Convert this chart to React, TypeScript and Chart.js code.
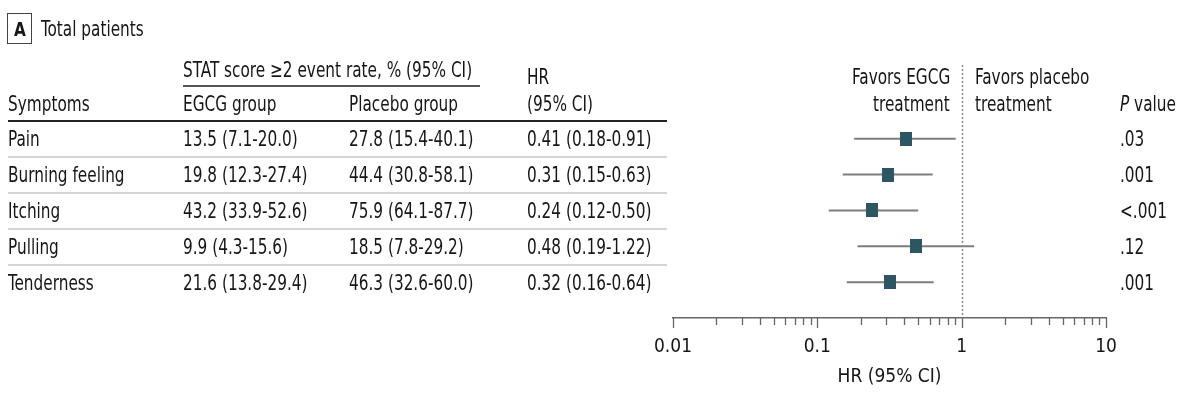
import React, { useEffect, useRef } from "react";
import { Chart, registerables } from "chart.js";

Chart.register(...registerables);

// ---- data ----
const symptoms = ["Pain", "Burning feeling", "Itching", "Pulling", "Tenderness"];
const egcgRates = ["13.5 (7.1-20.0)", "19.8 (12.3-27.4)", "43.2 (33.9-52.6)", "9.9 (4.3-15.6)", "21.6 (13.8-29.4)"];
const placeboRates = ["27.8 (15.4-40.1)", "44.4 (30.8-58.1)", "75.9 (64.1-87.7)", "18.5 (7.8-29.2)", "46.3 (32.6-60.0)"];
const hrValues = [0.41, 0.31, 0.24, 0.48, 0.32];
const hrLower = [0.18, 0.15, 0.12, 0.19, 0.16];
const hrUpper = [0.91, 0.63, 0.5, 1.22, 0.64];
const pValues = [".03", ".001", "<.001", ".12", ".001"];
const axisTickLabels = [0.01, 0.1, 1, 10];
const axisTitle = "HR (95% CI)";

const FONT = "'Liberation Sans Narrow', 'DejaVu Sans Condensed', 'Arial Narrow', sans-serif";
const TEXT = "#161616";
const FS = 21;
const SQUEEZE = 0.81;

// layout constants
const ROW0 = 139;
const ROWH = 36;
const TABLE_LEFT = 8;
const TABLE_RIGHT = 667;
const COL_EGCG = 183;
const COL_PLAC = 349;
const COL_HR = 527;
const COL_P = 1120;

type TProps = { x: number; y: number; align?: "left" | "right"; children: React.ReactNode; style?: React.CSSProperties };
const T = ({ x, y, align = "left", children, style }: TProps) => (
  <div
    style={{
      position: "absolute",
      left: align === "left" ? x : undefined,
      right: align === "right" ? 1200 - x : undefined,
      top: y,
      transform: `translateY(-50%) scaleX(${SQUEEZE})`,
      transformOrigin: align === "left" ? "left center" : "right center",
      whiteSpace: "nowrap",
      lineHeight: 1,
      fontFamily: FONT,
      fontSize: FS,
      color: TEXT,
      ...style,
    }}
  >
    {children}
  </div>
);

const HLine = ({ x1, x2, y, w, color }: { x1: number; x2: number; y: number; w: number; color: string }) => (
  <div style={{ position: "absolute", left: x1, top: y - w / 2, width: x2 - x1, height: w, background: color }} />
);

function makeMarker(): HTMLCanvasElement {
  const c = document.createElement("canvas");
  c.width = 12;
  c.height = 14;
  const g = c.getContext("2d")!;
  g.fillStyle = "#2c5664";
  g.fillRect(0, 0, 12, 14);
  return c;
}

export default function App() {
  const ref = useRef<HTMLCanvasElement | null>(null);

  useEffect(() => {
    if (!ref.current) return;
    const marker = makeMarker();

    const ciSets = symptoms.map((s, i) => ({
      label: s + " CI",
      data: [
        { x: hrLower[i], y: i },
        { x: hrUpper[i], y: i },
      ],
      showLine: true,
      borderColor: "#7d7d7d",
      borderWidth: 2,
      pointRadius: 0,
      order: 2,
    }));

    const pointSet = {
      label: "HR",
      data: hrValues.map((v, i) => ({ x: v, y: i })),
      pointStyle: marker as any,
      pointRadius: 7,
      showLine: false,
      order: 1,
    };

    const overlay = {
      id: "forestExtras",
      afterDraw(chart: any) {
        const { ctx, chartArea } = chart;
        const xs = chart.scales.x;
        ctx.save();
        // reference line at HR = 1
        const x1 = Math.round(xs.getPixelForValue(1)) + 0.5;
        ctx.strokeStyle = "#8a8a8a";
        ctx.lineWidth = 1.5;
        ctx.setLineDash([2, 2]);
        ctx.beginPath();
        ctx.moveTo(x1, chartArea.top - 2);
        ctx.lineTo(x1, chartArea.bottom);
        ctx.stroke();
        ctx.setLineDash([]);
        // tick marks (major + minor)
        ctx.strokeStyle = "#666";
        ctx.lineWidth = 1.3;
        const yb = chartArea.bottom;
        for (let e = -2; e <= 1; e++) {
          for (let m = 1; m <= 9; m++) {
            const v = m * Math.pow(10, e);
            if (v > 10.0001) break;
            const px = Math.round(xs.getPixelForValue(v)) + 0.5;
            const len = m === 1 ? 10 : 7;
            ctx.beginPath();
            ctx.moveTo(px, yb);
            ctx.lineTo(px, yb + len);
            ctx.stroke();
          }
        }
        ctx.restore();
      },
    };

    const chart = new Chart(ref.current, {
      type: "scatter",
      data: { datasets: [...ciSets, pointSet] as any },
      options: {
        animation: false,
        responsive: false,
        layout: { padding: { left: 673, right: 94, top: 67, bottom: 0 } },
        plugins: { legend: { display: false }, tooltip: { enabled: false } },
        scales: {
          x: {
            type: "logarithmic",
            min: 0.01,
            max: 10,
            grid: { display: false, drawTicks: false },
            border: { display: true, color: "#666", width: 1.5 },
            afterFit: (scale: any) => {
              scale.height = 397 - 318;
            },
            afterBuildTicks: (scale: any) => {
              scale.ticks = axisTickLabels.map((v) => ({ value: v }));
            },
            ticks: {
              autoSkip: false,
              maxRotation: 0,
              padding: 18,
              color: TEXT,
              font: { family: FONT, size: 19 },
              callback: (v: any) => String(v),
            },
            title: {
              display: true,
              text: axisTitle,
              color: TEXT,
              font: { family: FONT, size: 19 },
              padding: { top: 0, bottom: 9 },
            },
          },
          y: {
            type: "linear",
            min: -2,
            max: 5,
            reverse: true,
            display: false,
          },
        },
      },
      plugins: [overlay],
    });
    return () => chart.destroy();
  }, []);

  return (
    <div style={{ position: "absolute", left: 0, top: 0, width: 1200, height: 397, background: "#fff", overflow: "hidden" }}>
      <canvas ref={ref} width={1200} height={397} style={{ position: "absolute", left: 0, top: 0 }} />
      {/* panel title */}
      <div
        style={{
          position: "absolute",
          left: 7,
          top: 13,
          width: 23,
          height: 29,
          border: "1px solid #444",
          fontFamily: FONT,
          fontSize: 20,
          fontWeight: "bold",
          color: TEXT,
          display: "flex",
          alignItems: "center",
          justifyContent: "center",
        }}
      >
        <span style={{ display: "inline-block", transform: "scaleX(0.85)" }}>A</span>
      </div>
      <T x={41} y={29}>Total patients</T>

      {/* header */}
      <T x={COL_EGCG} y={70}>STAT score ≥2 event rate, % (95% CI)</T>
      <HLine x1={COL_EGCG} x2={480} y={86} w={1.5} color="#555" />
      <T x={TABLE_LEFT} y={104}>Symptoms</T>
      <T x={COL_EGCG} y={104}>EGCG group</T>
      <T x={COL_PLAC} y={104}>Placebo group</T>
      <T x={COL_HR} y={77}>HR</T>
      <T x={COL_HR} y={104}>(95% CI)</T>
      <HLine x1={TABLE_LEFT} x2={TABLE_RIGHT} y={121} w={2} color="#222" />

      <T x={950} y={77} align="right">Favors EGCG</T>
      <T x={950} y={104} align="right">treatment</T>
      <T x={975} y={77}>Favors placebo</T>
      <T x={975} y={104}>treatment</T>
      <T x={COL_P} y={104}>
        <i>P</i> value
      </T>

      {/* rows */}
      {symptoms.map((s, i) => {
        const y = ROW0 + i * ROWH;
        return (
          <React.Fragment key={s}>
            <T x={TABLE_LEFT} y={y}>{s}</T>
            <T x={COL_EGCG} y={y}>{egcgRates[i]}</T>
            <T x={COL_PLAC} y={y}>{placeboRates[i]}</T>
            <T x={COL_HR} y={y}>
              {`${hrValues[i].toFixed(2)} (${hrLower[i].toFixed(2)}-${hrUpper[i].toFixed(2)})`}
            </T>
            <T x={COL_P} y={y}>{pValues[i]}</T>
            {i < symptoms.length - 1 && (
              <HLine x1={TABLE_LEFT} x2={TABLE_RIGHT} y={y + ROWH / 2} w={2} color="#d4d4d4" />
            )}
          </React.Fragment>
        );
      })}
    </div>
  );
}
